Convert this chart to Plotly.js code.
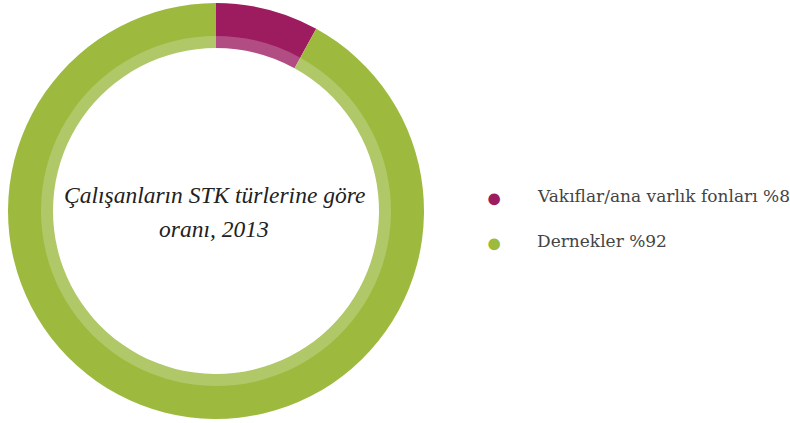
<!DOCTYPE html>
<html><head><meta charset="utf-8">
<script src="https://cdn.plot.ly/plotly-3.0.1.min.js"></script>
<style>html,body{margin:0;padding:0;background:#fff}#chart{width:790px;height:423px}</style>
</head><body><div id="chart"></div>
<script>
const labels = ["Vakıflar/ana varlık fonları", "Dernekler"];
const values = [8, 92];
const legendText = ["Vakıflar/ana varlık fonları %8", "Dernekler %92"];
const darkColors = ["#9d1c5f", "#9dba3f"];
const lightColors = ["#b24d84", "#b0c868"];
const centerTitleLines = ["Çalışanların STK türlerine göre", "oranı, 2013"];

const W = 790, H = 423, cx = 216, cy = 211;
const rOut = 208, rMid = 175, rIn = 163;
function dom(r){ return {x:[(cx-r)/W,(cx+r)/W], y:[(H-cy-r)/H,(H-cy+r)/H]}; }

const traces = [
  {type:'pie', labels:labels, values:values, sort:false, direction:'clockwise', rotation:0,
   hole:(rMid-1)/rOut, domain:dom(rOut), textinfo:'none', hoverinfo:'label+percent',
   marker:{colors:darkColors, line:{width:0}}, showlegend:false},
  {type:'pie', labels:labels, values:values, sort:false, direction:'clockwise', rotation:0,
   hole:rIn/rMid, domain:dom(rMid), textinfo:'none', hoverinfo:'skip',
   marker:{colors:lightColors, line:{width:0}}, showlegend:false}
];

const titleY = [195, 229];
const legY = [196, 241];
const annotations = [];
centerTitleLines.forEach((t,i)=>{
  annotations.push({text:t, x:(cx-2)/W, y:(H-titleY[i])/H, xref:'paper', yref:'paper',
    showarrow:false, xanchor:'center', yanchor:'middle',
    font:{family:'Liberation Serif, Georgia, serif', size:23.5, color:'#222', style:'italic'}});
});
legendText.forEach((t,i)=>{
  annotations.push({text:'●', x:494/W, y:(H-legY[i])/H, xref:'paper', yref:'paper', showarrow:false,
    font:{size:27, color:darkColors[i]}, xanchor:'center', yanchor:'middle'});
  annotations.push({text:t, x:535/W, y:(H-legY[i])/H, xref:'paper', yref:'paper', showarrow:false,
    font:{family:'DejaVu Serif, serif', size:17, color:'#444'}, xanchor:'left', yanchor:'middle'});
});

Plotly.newPlot('chart', traces, {width:W, height:H, margin:{l:0,r:0,t:0,b:0},
  paper_bgcolor:'#fff', showlegend:false, annotations:annotations}, {displayModeBar:false, staticPlot:true});
</script></body></html>
